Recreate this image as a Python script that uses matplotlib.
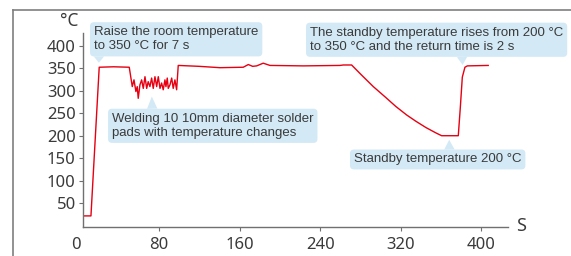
import matplotlib
matplotlib.use("Agg")
import matplotlib.pyplot as plt
from matplotlib.lines import Line2D

# temperature curve (time in s, temperature in degC)
time = [4, 12.6, 20.8, 35, 50.6, 53.6, 55.3, 57.2, 58.5, 59.5, 61.2, 62.9,
        64.5, 66.2, 67.9, 69.4, 71.1, 72.8, 74.4, 76.1, 77.8, 79.4, 81.1,
        82.7, 84.3, 86, 87, 88.3, 89.3, 91, 92.7, 94.2, 95.9, 97.6, 99.2,
        120, 140.6, 163.7, 168.7, 173, 177, 183.5, 190.2, 223.2, 259.6,
        263, 271.2, 280, 292.7, 305, 315, 325.8, 335, 345, 355, 360.5,
        377, 379, 381, 383.6, 386, 406.7]
temp = [22, 22, 352, 353, 352, 309, 324, 298, 309, 283, 313, 324,
        305, 331, 305, 320, 309, 328, 305, 331, 309, 331, 305,
        317, 302, 324, 309, 328, 305, 313, 328, 305, 324, 302, 356,
        354, 351, 352, 358, 354, 355, 361, 356, 355, 356,
        357, 357, 337, 309, 285, 265, 246, 232, 218, 206, 200,
        200, 262, 330, 352, 355, 356]

xticks = [80, 160, 240, 320, 400]
yticks = [50, 100, 150, 200, 250, 300, 350, 400]

notes = [
    "Raise the room temperature\nto 350 °C for 7 s",
    "Welding 10 10mm diameter solder\npads with temperature changes",
    "The standby temperature rises from 200 °C\nto 350 °C and the return time is 2 s",
    "Standby temperature 200 °C",
]
note_tips = [(20.5, 362), (73, 287), (381.3, 357), (368, 191)]

txt_col = "#3a3a3a"
box_col = "#d3e9f6"
axis_col = "#707070"

fig = plt.figure(figsize=(5.71, 2.56), dpi=100)
ax = fig.add_axes([0.1448, 0.1121, 0.7443, 0.759])

ax.plot(time, temp, color="#e60012", lw=1.0)

ax.set_xlim(4.4, 426)
ax.set_ylim(-3.3, 428)
ax.set_xticks(xticks)
ax.set_yticks(yticks)

for s in ["top", "right"]:
    ax.spines[s].set_visible(False)
for s in ["left", "bottom"]:
    ax.spines[s].set_color(axis_col)
    ax.spines[s].set_linewidth(1.0)

tick_font = {"family": "Noto Sans", "size": 12}
ax.tick_params(axis="both", colors=axis_col, labelcolor=txt_col, length=3,
               width=0.8)
ax.tick_params(axis="y", pad=2)
ax.tick_params(axis="x", pad=4)
for lab in ax.get_xticklabels() + ax.get_yticklabels():
    lab.set_fontfamily(tick_font["family"])
    lab.set_fontsize(tick_font["size"])

# the "0" label sits left of where the axis line starts
ax.annotate("0", xy=(-2, 0), xycoords=("data", "axes fraction"),
            xytext=(0, -7), textcoords="offset points", ha="center",
            va="top", color=txt_col, annotation_clip=False, **tick_font)

# axis unit labels
ax.annotate("°C", xy=(0, 1), xycoords="axes fraction", xytext=(-3, 2),
            textcoords="offset points", ha="right", va="bottom",
            color=txt_col, annotation_clip=False, family="Noto Sans",
            size=12.5)
ax.annotate("S", xy=(1, 0), xycoords="axes fraction", xytext=(6, 1),
            textcoords="offset points", ha="left", va="center",
            color=txt_col, annotation_clip=False, family="Noto Sans",
            size=13)

# callout boxes
text_pos = [(15.6, 414), (33.5, 222), (229.9, 413), (273.5, 147.3)]
relpos = [(0.03, 0.0), (0.2, 1.0), (0.6, 0.0), (0.57, 1.0)]
for note, tip, pos, rp in zip(notes, note_tips, text_pos, relpos):
    ax.annotate(note, xy=tip, xytext=pos, ha="left", va="center",
                color=txt_col, family="Liberation Sans", size=9.5,
                linespacing=1.25,
                bbox=dict(boxstyle="round,pad=0.3", fc=box_col, ec="none"),
                arrowprops=dict(arrowstyle="wedge,tail_width=0.75",
                                fc=box_col, ec="none", relpos=rp,
                                shrinkA=0, shrinkB=0, mutation_scale=10))

# outer frame (left and top edges only visible)
fx = 13 / 571
fy = 1 - 10 / 256
fig.add_artist(Line2D([fx, fx], [0, fy], color="#7f7f7f", lw=1.2))
fig.add_artist(Line2D([fx, 1], [fy, fy], color="#7f7f7f", lw=1.2))

fig.savefig("out.png", dpi=100)
